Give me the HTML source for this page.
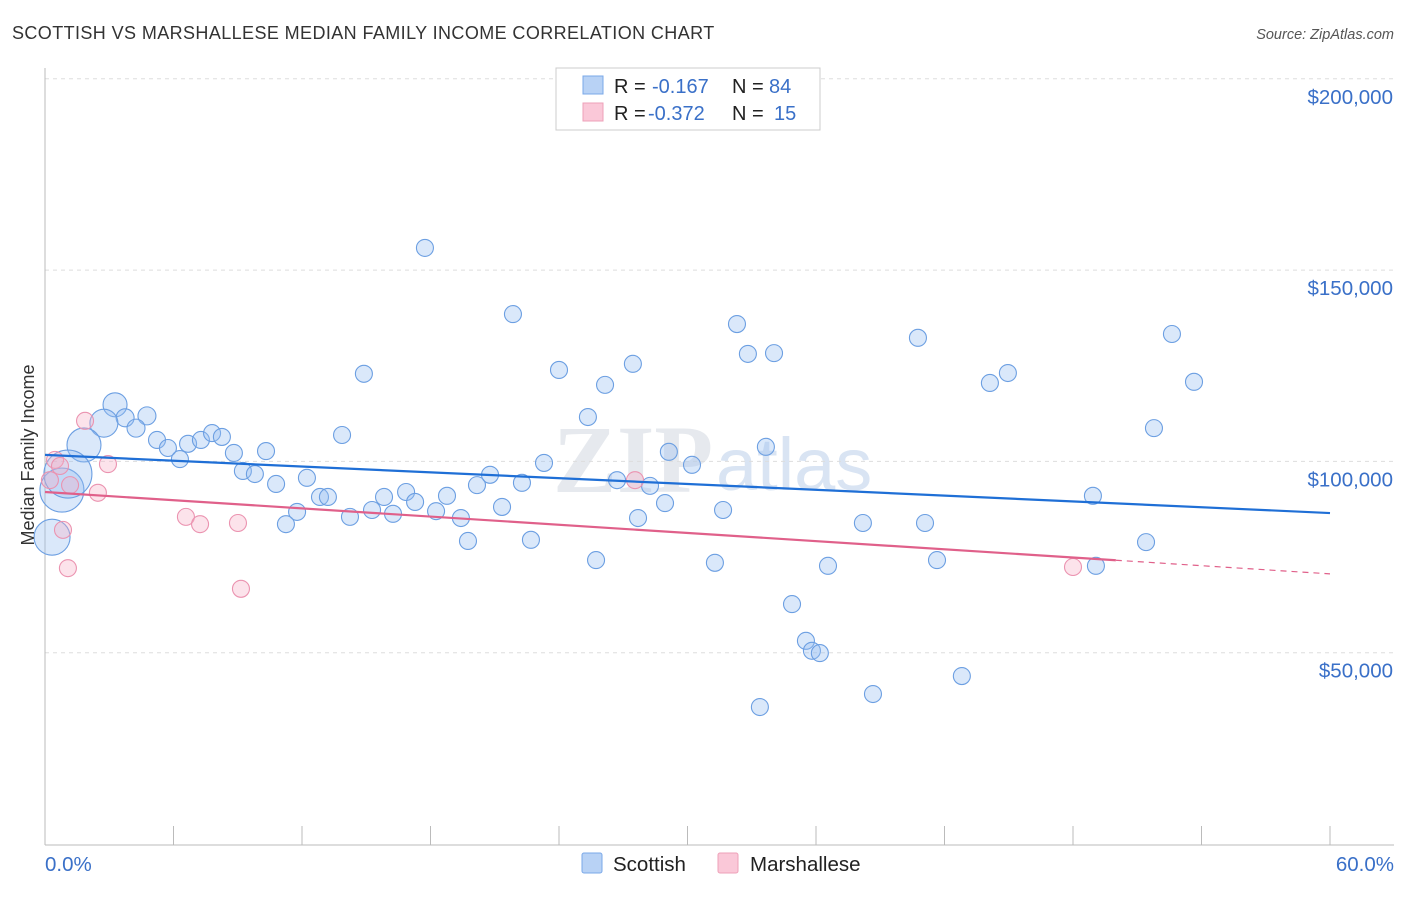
<!DOCTYPE html>
<html><head><meta charset="utf-8"><style>
body{margin:0;background:#fff;font-family:"Liberation Sans",sans-serif}
</style></head><body>
<svg id="c" width="1406" height="892" xmlns="http://www.w3.org/2000/svg" style="font-family:'Liberation Sans',sans-serif">
<text x="12" y="39" font-size="18" letter-spacing="0.4" fill="#333">SCOTTISH VS MARSHALLESE MEDIAN FAMILY INCOME CORRELATION CHART</text>
<text x="1394" y="39" font-size="14.5" fill="#555" text-anchor="end" font-style="italic">Source: ZipAtlas.com</text>
<text x="553" y="492" font-size="96" fill="#e6e9ee" font-family="Liberation Serif" font-weight="bold">ZIP</text>
<text x="716" y="490" font-size="74" fill="#d9e4f3">atlas</text>
<g id="grid"></g><g id="axes"></g><g id="pts"></g><g id="lines"></g>
<text transform="translate(34,455) rotate(-90)" font-size="18" fill="#333" text-anchor="middle">Median Family Income</text>
<g>
<rect x="556" y="68" width="264" height="62" fill="#fff" stroke="#ccc"/>
<rect x="583" y="76" width="20" height="18" fill="#b8d2f5" stroke="#7aa8e8"/>
<rect x="583" y="103" width="20" height="18" fill="#fac8d8" stroke="#eea0b8"/>
<text x="614" y="93" font-size="20" fill="#222">R = <tspan x="652" fill="#3a70c8">-0.167</tspan><tspan x="732">N = </tspan><tspan x="769" fill="#3a70c8">84</tspan></text>
<text x="614" y="120" font-size="20" fill="#222">R = <tspan x="648" fill="#3a70c8">-0.372</tspan><tspan x="732">N = </tspan><tspan x="774" fill="#3a70c8">15</tspan></text>
</g>
<g>
<rect x="582" y="853" width="20" height="20" fill="#b8d2f5" stroke="#7aa8e8" rx="2"/>
<text x="613" y="871" font-size="20.5" fill="#222">Scottish</text>
<rect x="718" y="853" width="20" height="20" fill="#fac8d8" stroke="#eea0b8" rx="2"/>
<text x="750" y="871" font-size="20.5" fill="#222">Marshallese</text>
</g>
</svg>
<script>
const yTicks=[50000,100000,150000,200000];
const yTickLabels=["$50,000","$100,000","$150,000","$200,000"];
const xTicks=[0,6,12,18,24,30,36,42,48,54,60];
const xEndLabels=["0.0%","60.0%"];
const blueX=[3.27,3.74,4.76,2.75,4.25,1.82,5.23,5.74,6.68,7.28,7.80,8.26,6.30,8.82,10.32,9.24,9.80,10.79,12.23,11.77,11.25,12.84,13.21,13.87,14.24,14.89,15.27,15.83,16.25,16.86,17.28,18.26,18.77,17.74,19.42,19.75,20.17,20.78,21.34,22.27,21.85,22.69,23.30,24.00,25.35,25.73,26.15,26.71,27.45,27.69,28.25,28.95,29.13,30.21,31.28,31.66,32.31,32.82,33.38,33.66,34.04,34.88,35.53,35.81,36.18,36.56,38.19,38.66,40.76,41.09,41.65,42.81,44.12,44.96,48.93,49.07,51.41,51.78,52.62,53.65,0.79,1.07,0.33];
const blueY=[114.8,111.4,111.9,110.0,108.7,104.3,105.6,103.5,104.6,105.6,107.4,106.4,100.6,102.2,102.7,97.5,96.7,94.1,95.7,86.8,83.6,90.7,90.7,106.9,85.5,122.9,87.3,90.7,86.3,92.0,89.4,87.0,91.0,155.8,85.2,79.2,93.8,96.5,88.1,94.4,138.5,79.5,99.6,123.9,111.6,74.2,120.0,95.1,125.5,85.2,93.6,89.1,102.5,99.1,73.5,87.3,135.9,128.1,35.8,103.8,128.3,62.7,53.1,50.5,49.9,72.7,83.9,39.2,132.3,83.9,74.2,43.9,120.5,123.1,91.0,72.7,78.9,108.7,133.3,120.8,92.5,96.7,80.2];
const blueR=[12,9,9,14,9,17];
const bigBlueR={80:22,81:24,82:18};
const pinkX=[0.47,0.70,1.17,0.84,1.07,1.87,2.47,2.94,6.58,7.24,9.01,9.15,27.55,48.0,0.23];
const pinkY=[100.4,98.8,93.8,82.1,72.1,110.6,91.8,99.3,85.5,83.6,83.9,66.7,95.1,72.4,95.1];
const blueTrend=[101.7,86.5];
const pinkTrend=[92.0,70.6];
const pinkSolidEnd=50;
const X=v=>45+v/60*1285;
const Y=v=>844-v/50000*191.3;
const Yk=v=>Y(v*1000);
const NS="http://www.w3.org/2000/svg";
function mk(tag,attrs,parent){const e=document.createElementNS(NS,tag);for(const k in attrs)e.setAttribute(k,attrs[k]);document.getElementById(parent).appendChild(e);return e;}
yTicks.forEach((t,i)=>{
 const l=mk('line',{x1:45,x2:1394,y1:Y(t),y2:Y(t),stroke:'#ddd','stroke-dasharray':'4,4'},'grid');
 
 
 const tx=mk('text',{x:1393,y:Y(t)+25,'font-size':20.5,fill:'#3a70c8','text-anchor':'end'},'grid');
 tx.textContent=yTickLabels[i];
 
 
});
const ax=mk('line',{x1:45,x2:45,y1:68,y2:845,stroke:'#bbb'},'axes');


const bx=mk('line',{x1:45,x2:1394,y1:845,y2:845,stroke:'#bbb'},'axes');


xTicks.forEach(t=>{const l=mk('line',{x1:X(t),x2:X(t),y1:826,y2:845,stroke:'#bbb'},'axes');
 
 });
[[0,45,'start'],[60,1394,'end']].forEach((a,i)=>{const t=mk('text',{x:a[1],y:871,'font-size':20.5,fill:'#3a70c8','text-anchor':a[2]},'axes');t.textContent=xEndLabels[i];
 
 });
blueX.forEach((x,i)=>{const r=bigBlueR[i]||blueR[i]||8.5;
 const c=mk('circle',{cx:X(x),cy:Yk(blueY[i]),r:r,fill:'rgba(150,190,240,0.35)',stroke:'#6c9fe2','stroke-width':1.1},'pts');
 
 });
pinkX.forEach((x,i)=>{const c=mk('circle',{cx:X(x),cy:Yk(pinkY[i]),r:8.5,fill:'rgba(245,175,198,0.35)',stroke:'#eb93b0','stroke-width':1.1},'pts');
 
 });
const bl=mk('line',{x1:X(0),y1:Yk(blueTrend[0]),x2:X(60),y2:Yk(blueTrend[1]),stroke:'#1f6fd6','stroke-width':2.2},'lines');


const pm=pinkTrend[0]+(pinkTrend[1]-pinkTrend[0])*pinkSolidEnd/60;
const pl=mk('line',{x1:X(0),y1:Yk(pinkTrend[0]),x2:X(pinkSolidEnd),y2:Yk(pm),stroke:'#e0608a','stroke-width':2.2},'lines');


const pd=mk('line',{x1:X(pinkSolidEnd),y1:Yk(pm),x2:X(60),y2:Yk(pinkTrend[1]),stroke:'#e0608a','stroke-width':1.2,'stroke-dasharray':'6,5'},'lines');


</script>
</body></html>
